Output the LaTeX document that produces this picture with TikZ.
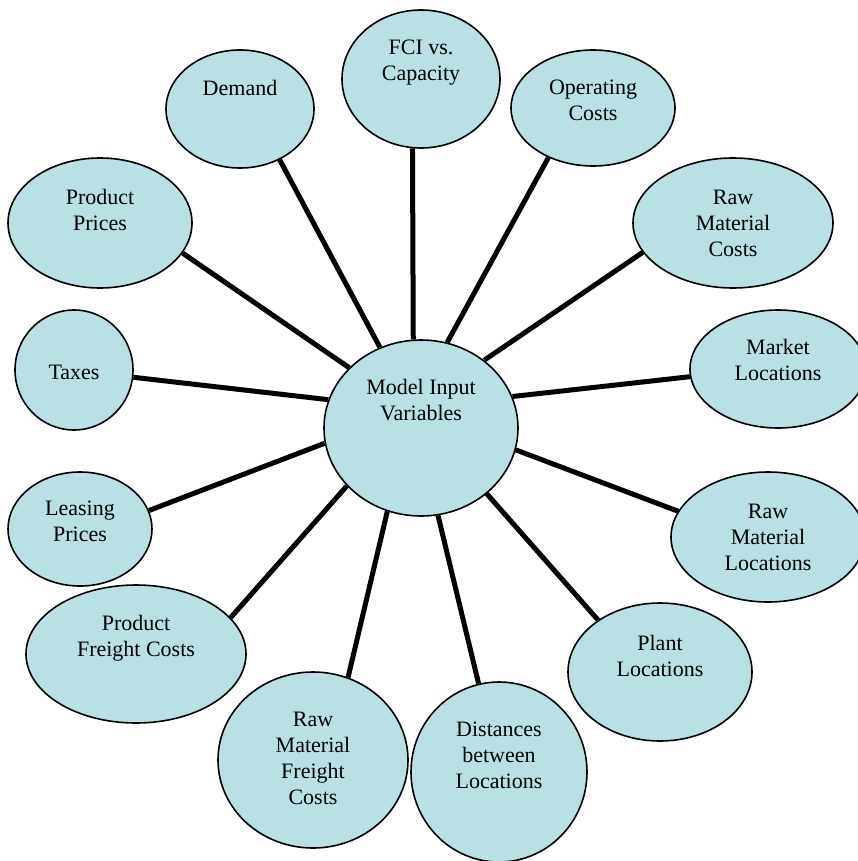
\documentclass[tikz,border=0pt]{standalone}
\usepackage{fontspec}
\setmainfont{Liberation Serif}
\usepackage{tikz}
\usetikzlibrary{shapes.geometric}
\definecolor{bubblefill}{RGB}{185,224,228}

\begin{document}
\begin{tikzpicture}[x=1pt, y=-1pt,
  bubble/.style={ellipse, draw, line width=1.6pt, fill=bubblefill, inner sep=0pt},
  caption/.style={align=center, font=\fontsize{22}{26}\selectfont, inner sep=0pt},
  link/.style={line width=5pt}]
  \useasboundingbox (0, 0) rectangle (857, 861);

% centre
  \draw (421, 428) node[bubble, minimum width=194pt, minimum height=176pt] (model) {};
  \draw (421, 400) node[caption] (modeltext) {Model Input\\Variables};

% top row
  \draw (240, 109) node[bubble, minimum width=148pt, minimum height=118pt] (demand) {};
  \draw (240, 88) node[caption] (demandtext) {Demand};
  \draw (421, 79) node[bubble, minimum width=158pt, minimum height=138pt] (fci) {};
  \draw (421, 63) node[caption] (fcitext) {FCI vs.\\Capacity};
  \draw (593, 108) node[bubble, minimum width=164pt, minimum height=116pt] (opcost) {};
  \draw (593, 100) node[caption] (opcosttext) {Operating\\Costs};

% right side
  \draw (733, 223) node[bubble, minimum width=200pt, minimum height=130pt] (rmcost) {};
  \draw (733, 223) node[caption] (rmcosttext) {Raw\\Material\\Costs};
  \draw (778, 369) node[bubble, minimum width=176pt, minimum height=118pt] (market) {};
  \draw (778, 360) node[caption] (markettext) {Market\\Locations};
  \draw (768, 537) node[bubble, minimum width=194pt, minimum height=130pt] (rmloc) {};
  \draw (768, 537) node[caption] (rmloctext) {Raw\\Material\\Locations};
  \draw (660, 672) node[bubble, minimum width=184pt, minimum height=138pt] (plant) {};
  \draw (660, 656) node[caption] (planttext) {Plant\\Locations};

% bottom row
  \draw (499, 772) node[bubble, minimum width=176pt, minimum height=180pt] (dist) {};
  \draw (499, 755) node[caption] (disttext) {Distances\\between\\Locations};
  \draw (313, 760) node[bubble, minimum width=190pt, minimum height=176pt] (rmfreight) {};
  \draw (313, 758) node[caption] (rmfreighttext) {Raw\\Material\\Freight\\Costs};

% left side
  \draw (136, 654) node[bubble, minimum width=220pt, minimum height=138pt] (pfreight) {};
  \draw (136, 638) node[caption] (pfreighttext) {Product\\Freight Costs};
  \draw (80, 529) node[bubble, minimum width=144pt, minimum height=114pt] (leasing) {};
  \draw (80, 521) node[caption] (leasingtext) {Leasing\\Prices};
  \draw (74, 370) node[bubble, minimum width=118pt, minimum height=120pt] (taxes) {};
  \draw (74, 372) node[caption] (taxestext) {Taxes};
  \draw (100, 223) node[bubble, minimum width=184pt, minimum height=130pt] (pprice) {};
  \draw (100, 210) node[caption] (ppricetext) {Product\\Prices};

% spokes
  \foreach \n/\a/\b in {demand/308/117, fci/263/95, opcost/228/73, rmcost/198/47,
      market/185/19, rmloc/164/347, plant/140/315, dist/103/281, rmfreight/67/248,
      pfreight/21/218, leasing/15/189, taxes/353/163, pprice/340/140}{
    \draw[link] (\n.\a) -- (model.\b);
  }
\end{tikzpicture}
\end{document}
